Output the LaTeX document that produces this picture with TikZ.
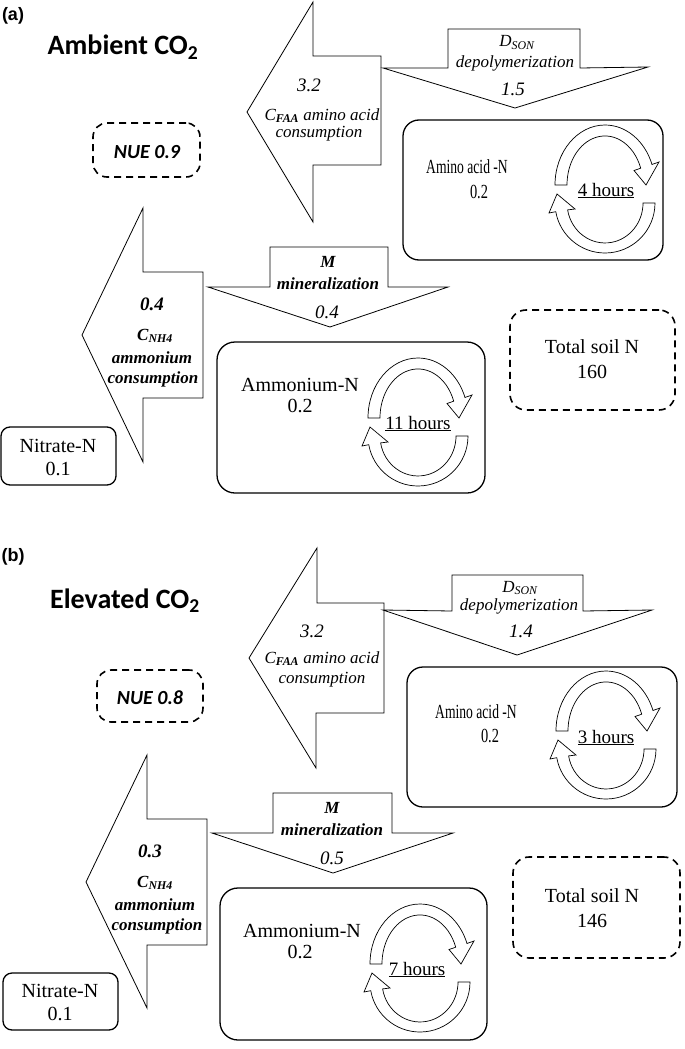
\documentclass[tikz,border=0pt]{standalone}
\usepackage{graphicx}
\usepackage{fontspec}
\setmainfont{Liberation Serif}
\newfontfamily\calfont{Carlito}
\newfontfamily\arialfont{Liberation Sans}
\newcommand\mySer{\fontsize{20}{22}\selectfont}
\newcommand\myItl{\fontsize{17}{19}\selectfont\itshape}
\newcommand\myBI{\fontsize{17}{19}\selectfont\bfseries\itshape}
\newcommand\myNum{\fontsize{19}{21}\selectfont\itshape}
\newcommand\myNumB{\fontsize{19}{21}\selectfont\bfseries\itshape}
\newcommand\myHr{\fontsize{19}{21}\selectfont}
\newcommand\myTitle{\calfont\bfseries\fontsize{28}{32}\selectfont}
\newcommand\myPanel{\arialfont\bfseries\fontsize{18}{20}\selectfont}
\newcommand\myNUE{\calfont\bfseries\itshape\fontsize{20}{22}\selectfont}
\tikzset{
  flow/.style={draw, line width=0.8pt, fill=white, line join=miter},
  pool/.style={draw, line width=1.3pt, rounded corners=16pt, inner sep=0pt},
  dpool/.style={draw, line width=1.6pt, dash pattern=on 7pt off 5pt, rounded corners=14pt, inner sep=0pt},
  cyc/.style={draw, line width=0.7pt, fill=white},
  lab/.style={anchor=base, inner sep=0pt},
}
% turnover cycle: #1 cx, #2 cy
\newcommand\turnover[2]{%
  \begin{scope}[shift={(#1,#2)}]
    \draw[cyc] (-50,-9) arc[start angle=180,end angle=340,x radius=50,y radius=60]
      -- (54,-32) -- (41,-9) -- (29,-23.5) -- (35.7,-25.8)
      arc[start angle=340,end angle=180,x radius=38,y radius=49] -- cycle;
    \draw[cyc] (50,9) arc[start angle=0,end angle=170,x radius=50,y radius=50]
      -- (-56,19) -- (-48,0) -- (-30,15) -- (-37.4,15.9)
      arc[start angle=170,end angle=0,x radius=38,y radius=40] -- cycle;
  \end{scope}}
\begin{document}
\begin{tikzpicture}[x=1pt,y=-1pt]
\fill[white] (0,0) rectangle (685,1049);
\useasboundingbox (0,0) rectangle (685,1049);

% ================= Panel (a) =================
\node[lab, font=\myPanel] (pa) at (13,21) {(a)};
\node[lab, font=\myTitle] (ta) at (123,55) {Ambient CO\textsubscript{2}};

\node[dpool, minimum width=107pt, minimum height=54pt] (nueboxa) at (146.5,150) {};
\node[lab, font=\myNUE] (nuea) at (147,158) {NUE 0.9};

% C_FAA arrow
\draw[flow] (381,56) -- (313,56) -- (313,2) -- (247,112) -- (313,222) -- (313,165) -- (381,165) -- cycle;
\node[lab, font=\myNum] (cfa1) at (309,92) {3.2};
\node[lab, font=\myItl] (cfa2) at (322,120) {C\textsubscript{\textbf{FAA}} amino acid};
\node[lab, font=\myItl] (cfa3) at (319,137) {consumption};

% D_SON arrow
\draw[flow] (448,29) -- (580,29) -- (580,68) -- (648,67) -- (515,108) -- (383,68) -- (448,68) -- cycle;
\node[lab, font=\myItl] (dsa1) at (517,47) {D\textsubscript{SON}};
\node[lab, font=\myItl] (dsa2) at (515,67) {depolymerization};
\node[lab, font=\myNum] (dsa3) at (513,95) {1.5};

% Amino acid pool
\node[pool, minimum width=260pt, minimum height=140pt] (aaa) at (533,190) {};
\node[lab, font=\mySer] (aaa1) at (467,173) {\scalebox{0.68}[1]{Amino acid -N}};
\node[lab, font=\mySer] (aaa2) at (479,198) {\scalebox{0.72}[1]{0.2}};
\turnover{605}{194}
\node[lab, font=\myHr] (hra) at (606,196) {\underline{4 hours}};

% C_NH4 arrow
\draw[flow] (203,272) -- (143,272) -- (143,208) -- (82,335) -- (143,462) -- (143,398) -- (203,398) -- cycle;
\node[lab, font=\myNumB] (cna1) at (152,310) {0.4};
\node[lab, font=\myBI] (cna2) at (155,340) {C\textsubscript{NH4}};
\node[lab, font=\myBI] (cna3) at (152,363) {ammonium};
\node[lab, font=\myBI] (cna4) at (153,383) {consumption};

% M arrow
\draw[flow] (270,247) -- (388,247) -- (388,287) -- (448,287) -- (330,327) -- (208,287) -- (270,287) -- cycle;
\node[lab, font=\myBI] (ma1) at (328,267) {M};
\node[lab, font=\myBI] (ma2) at (328,289) {mineralization};
\node[lab, font=\myNum] (ma3) at (327,318) {0.4};

% Ammonium pool
\node[pool, minimum width=268pt, minimum height=151pt, rounded corners=18pt] (ama) at (351,417.5) {};
\node[lab, font=\mySer] (ama1) at (300,391) {Ammonium-N};
\node[lab, font=\mySer] (ama2) at (300,412) {0.2};
\turnover{418}{427}
\node[lab, font=\myHr] (hrb) at (418,429) {\underline{11 hours}};

% Total soil N
\node[dpool, minimum width=165pt, minimum height=100pt, rounded corners=16pt] (tsa) at (592.5,360) {};
\node[lab, font=\mySer] (tsa1) at (592,353) {Total soil N};
\node[lab, font=\mySer] (tsa2) at (592,378) {160};

% Nitrate
\node[pool, minimum width=115pt, minimum height=58pt, rounded corners=9pt] (nia) at (58.5,456) {};
\node[lab, font=\mySer] (nia1) at (58,452) {Nitrate-N};
\node[lab, font=\mySer] (nia2) at (58,475) {0.1};

% ================= Panel (b) =================
\node[lab, font=\myPanel] (pb) at (13,561) {(b)};
\node[lab, font=\myTitle] (tb) at (125,608) {Elevated CO\textsubscript{2}};

\node[dpool, minimum width=106pt, minimum height=52pt] (nueboxb) at (150,696) {};
\node[lab, font=\myNUE] (nueb) at (150,704) {NUE 0.8};

% C_FAA arrow
\draw[flow] (384,603) -- (317,603) -- (317,548) -- (249,658) -- (316,768) -- (316,713) -- (384,713) -- cycle;
\node[lab, font=\myNum] (cfb1) at (312,637) {3.2};
\node[lab, font=\myItl] (cfb2) at (322,663) {C\textsubscript{\textbf{FAA}} amino acid};
\node[lab, font=\myItl] (cfb3) at (322,683) {consumption};

% D_SON arrow
\draw[flow] (452,575) -- (583,575) -- (583,611) -- (652,610) -- (517,655) -- (383,610) -- (452,611) -- cycle;
\node[lab, font=\myItl] (dsb1) at (520,592) {D\textsubscript{SON}};
\node[lab, font=\myItl] (dsb2) at (519,610) {depolymerization};
\node[lab, font=\myNum] (dsb3) at (521,637) {1.4};

% Amino acid pool
\node[pool, minimum width=270pt, minimum height=140pt] (aab) at (542,737) {};
\node[lab, font=\mySer] (aab1) at (476,718) {\scalebox{0.68}[1]{Amino acid -N}};
\node[lab, font=\mySer] (aab2) at (490,742) {\scalebox{0.72}[1]{0.2}};
\turnover{606}{740}
\node[lab, font=\myHr] (hrc) at (606,743) {\underline{3 hours}};

% C_NH4 arrow
\draw[flow] (207,819) -- (147,819) -- (147,755) -- (86,882) -- (147,1008) -- (147,945) -- (207,945) -- cycle;
\node[lab, font=\myNumB] (cnb1) at (150,857) {0.3};
\node[lab, font=\myBI] (cnb2) at (155,887) {C\textsubscript{NH4}};
\node[lab, font=\myBI] (cnb3) at (155,910) {ammonium};
\node[lab, font=\myBI] (cnb4) at (157,930) {consumption};

% M arrow
\draw[flow] (273,793) -- (392,793) -- (392,833) -- (453,833) -- (333,873) -- (212,833) -- (273,833) -- cycle;
\node[lab, font=\myBI] (mb1) at (332,813) {M};
\node[lab, font=\myBI] (mb2) at (332,835) {mineralization};
\node[lab, font=\myNum] (mb3) at (332,864) {0.5};

% Ammonium pool
\node[pool, minimum width=267pt, minimum height=152pt, rounded corners=18pt] (amb) at (353.5,964) {};
\node[lab, font=\mySer] (amb1) at (302,937) {Ammonium-N};
\node[lab, font=\mySer] (amb2) at (300,958) {0.2};
\turnover{420}{973}
\node[lab, font=\myHr] (hrd) at (417,975) {\underline{7 hours}};

% Total soil N
\node[dpool, minimum width=167pt, minimum height=101pt, rounded corners=16pt] (tsb) at (596.5,907.5) {};
\node[lab, font=\mySer] (tsb1) at (592,902) {Total soil N};
\node[lab, font=\mySer] (tsb2) at (592,927) {146};

% Nitrate
\node[pool, minimum width=115pt, minimum height=57pt, rounded corners=9pt] (nib) at (60.5,1001.5) {};
\node[lab, font=\mySer] (nib1) at (60,997) {Nitrate-N};
\node[lab, font=\mySer] (nib2) at (60,1020) {0.1};
\end{tikzpicture}
\end{document}
